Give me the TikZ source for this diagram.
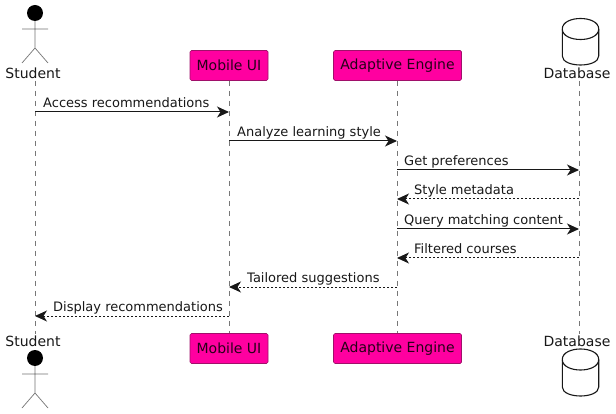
\documentclass[tikz,border=0pt]{standalone}
\usepackage{fontspec}
\setmainfont{DejaVu Sans}
\usetikzlibrary{arrows.meta}
\definecolor{partfill}{HTML}{FF00A0}
\definecolor{partline}{HTML}{A0106A}
\definecolor{ink}{HTML}{181818}
\definecolor{lifec}{HTML}{777777}
\tikzset{
  partbox/.style={draw=partline,fill=partfill,rounded corners=1.5pt,line width=.7pt,minimum height=30pt,inner xsep=0pt,inner ysep=0pt,text=black!85!partfill,font=\fontsize{14}{16}\selectfont,anchor=center},
  partlabel/.style={text=ink,inner sep=0pt,font=\fontsize{14}{16}\selectfont,anchor=base},
  lifeline/.style={draw=lifec,line width=.7pt,dash pattern=on 5pt off 5pt},
  msglabel/.style={text=ink,inner sep=0pt,font=\fontsize{13}{15}\selectfont,anchor=base west},
  msg/.style={draw=ink,line width=1pt,-{Stealth[length=12pt,width=11pt,inset=3.5pt]}},
  reply/.style={draw=ink,line width=1pt,dash pattern=on 2pt off 2pt,-{Stealth[length=12pt,width=11pt,inset=3.5pt]}},
  stick/.style={draw=ink!60,line width=.7pt},
  dbshape/.style={draw=ink,line width=1.1pt,fill=white},
}
\newcommand{\dbcyl}[2]{%
  \draw[dbshape] (562.3,#1+10.5) .. controls (562.3,#1-3.5) and (598.7,#1-3.5) .. (598.7,#1+10.5)
    -- (598.7,#2-9) .. controls (598.7,#2+3) and (562.3,#2+3) .. (562.3,#2-9) -- cycle;
  \draw[dbshape,fill=none] (562.3,#1+10.5) .. controls (562.3,#1+24.5) and (598.7,#1+24.5) .. (598.7,#1+10.5);
}
\newcommand{\stickman}[1]{%
  \fill[black] (35,#1) circle (8pt);
  \draw[stick] (35,#1+8) -- (35,#1+35) (22,#1+16) -- (48,#1+16) (22,#1+50) -- (35,#1+35) -- (48,#1+50);
}
\begin{document}
\begin{tikzpicture}[x=1pt,y=-1pt]
\useasboundingbox[fill=white] (0,0) rectangle (616,414);
% participants
\node[partlabel] (stuT) at (33,78.5) {Student};
\node[partlabel] (stuB) at (33,346) {Student};
\node[partbox,minimum width=78pt] (uiT) at (229,65.5) {Mobile UI};
\node[partbox,minimum width=78pt] (uiB) at (229,348.5) {Mobile UI};
\node[partbox,minimum width=128pt] (aeT) at (397.5,65.5) {Adaptive Engine};
\node[partbox,minimum width=128pt] (aeB) at (397.5,348.5) {Adaptive Engine};
\node[partlabel] (dbT) at (577,78.5) {Database};
\node[partlabel] (dbB) at (577,346) {Database};
% lifeline ends
\coordinate (stuA) at (35,81); \coordinate (stuZ) at (35,334);
\coordinate (dbA) at (579,81); \coordinate (dbZ) at (579,334);
\draw[lifeline] (stuA) -- (stuZ);
\draw[lifeline] (uiT.south) -- (uiB.north);
\draw[lifeline] (aeT.south) -- (aeB.north);
\draw[lifeline] (dbA) -- (dbZ);
% actors, databases
\stickman{13}
\stickman{358}
\dbcyl{18.5}{65}
\dbcyl{349}{396}
% message points
\foreach \n/\y in {1/112,2/141,3/170,4/199,5/229,6/258,7/287,8/316}{
  \coordinate (s\n) at (35,\y);
  \coordinate (u\n) at (229,\y);
  \coordinate (a\n) at (397,\y);
  \coordinate (d\n) at (579,\y);
}
\draw[msg] (s1) -- (u1);
\node[msglabel] (m1) at (43,107.5) {Access recommendations};
\draw[msg] (u2) -- (a2);
\node[msglabel] (m2) at (237,136.5) {Analyze learning style};
\draw[msg] (a3) -- (d3);
\node[msglabel] (m3) at (404,165.5) {Get preferences};
\draw[reply] (d4) -- (a4);
\node[msglabel] (m4) at (414,194.5) {Style metadata};
\draw[msg] (a5) -- (d5);
\node[msglabel] (m5) at (404,224.5) {Query matching content};
\draw[reply] (d6) -- (a6);
\node[msglabel] (m6) at (414,253.5) {Filtered courses};
\draw[reply] (a7) -- (u7);
\node[msglabel] (m7) at (247,282.5) {Tailored suggestions};
\draw[reply] (u8) -- (s8);
\node[msglabel] (m8) at (53,311.5) {Display recommendations};
\end{tikzpicture}
\end{document}
